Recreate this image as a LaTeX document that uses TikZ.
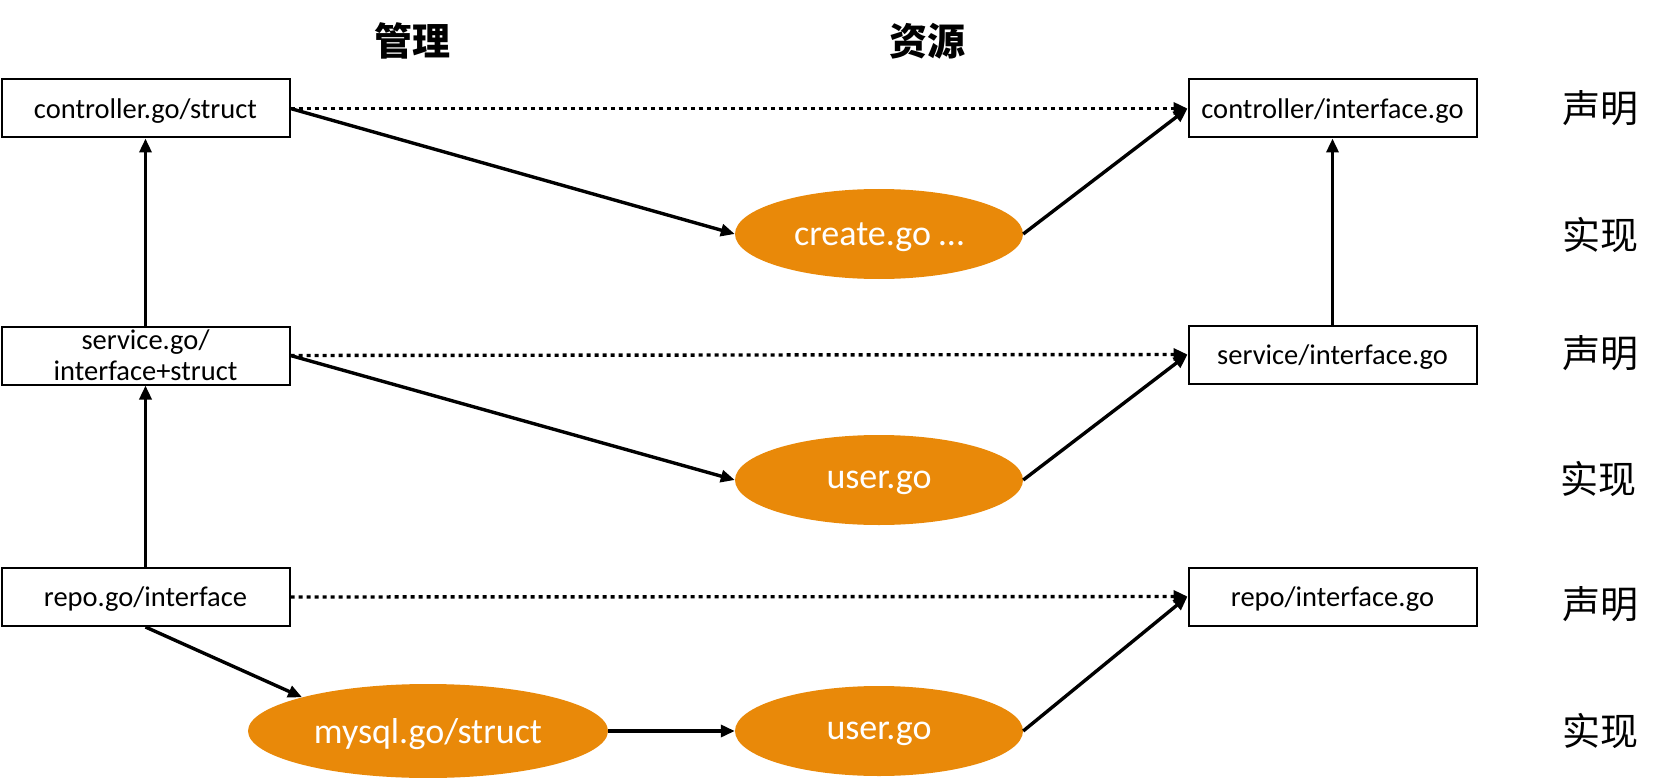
\documentclass[tikz,border=0pt]{standalone}
\usepackage{fontspec}
\setmainfont{Carlito}
\newfontfamily\cjk{Noto Sans CJK SC}
\usetikzlibrary{arrows.meta,shapes.geometric}
\definecolor{og}{RGB}{233,137,9}
\begin{document}
\begin{tikzpicture}[x=1pt,y=-1pt,
  box/.style={draw, line width=2pt, minimum width=288pt, minimum height=58pt, inner sep=0pt, text depth=0pt, font=\fontsize{28.5}{31}\selectfont, align=center},
  oval/.style={ellipse, fill=og, text=white, inner sep=0pt, text depth=0pt, minimum width=288pt, minimum height=90pt, font=\fontsize{36}{40}\selectfont},
  arr/.style={line width=3.4pt, -{Triangle[length=14pt,width=12pt]}},
  dotarr/.style={arr, dash pattern=on 4pt off 4pt},
  head/.style={font=\cjk\bfseries\fontsize{38}{42}\selectfont},
  side/.style={font=\cjk\fontsize{38}{42}\selectfont}]
\useasboundingbox (0,0) rectangle (1678,778);
\node[box] (cs) at (145.5,108.5) {controller.go/struct};
\node[box] (ci) at (1332.5,108.5) {controller/interface.go};
\node[box] (ss) at (145.5,355.5) {service.go/\\interface+struct};
\node[box] (si) at (1332.5,354.5) {service/interface.go};
\node[box] (rs) at (145.5,597) {repo.go/interface};
\node[box] (ri) at (1332.5,596.5) {repo/interface.go};
\node[oval] (cg) at (879,234) {create.go …};
\node[oval] (ug1) at (879,480) {user.go};
\node[oval] (ug2) at (879,731) {user.go};
\node[oval, minimum width=360pt, minimum height=94pt] (my) at (428,731) {mysql.go/struct};
\node[head] (h1) at (412,41) {管理};
\node[head] (h2) at (927,41) {资源};
\node[side] (d1) at (1600,108) {声明};
\node[side] (i1) at (1600,235) {实现};
\node[side] (d2) at (1600,353) {声明};
\node[side] (i2) at (1598,479) {实现};
\node[side] (d3) at (1600,604) {声明};
\node[side] (i3) at (1600,731) {实现};
\draw[dotarr] (cs.east) -- (ci.west);
\draw[arr] (cs.east) -- (cg.west);
\draw[arr] (cg.east) -- (ci.west);
\draw[arr] (si.north) -- (ci.south);
\draw[arr] (ss.north) -- (cs.south);
\draw[dotarr] (ss.east) -- (si.west);
\draw[arr] (ss.east) -- (ug1.west);
\draw[arr] (ug1.east) -- (si.west);
\draw[arr] (rs.north) -- (ss.south);
\draw[dotarr] (rs.east) -- (ri.west);
\draw[arr] (rs.south) -- (my.165);
\draw[arr] (my.east) -- (ug2.west);
\draw[arr] (ug2.east) -- (ri.west);
\end{tikzpicture}
\end{document}
